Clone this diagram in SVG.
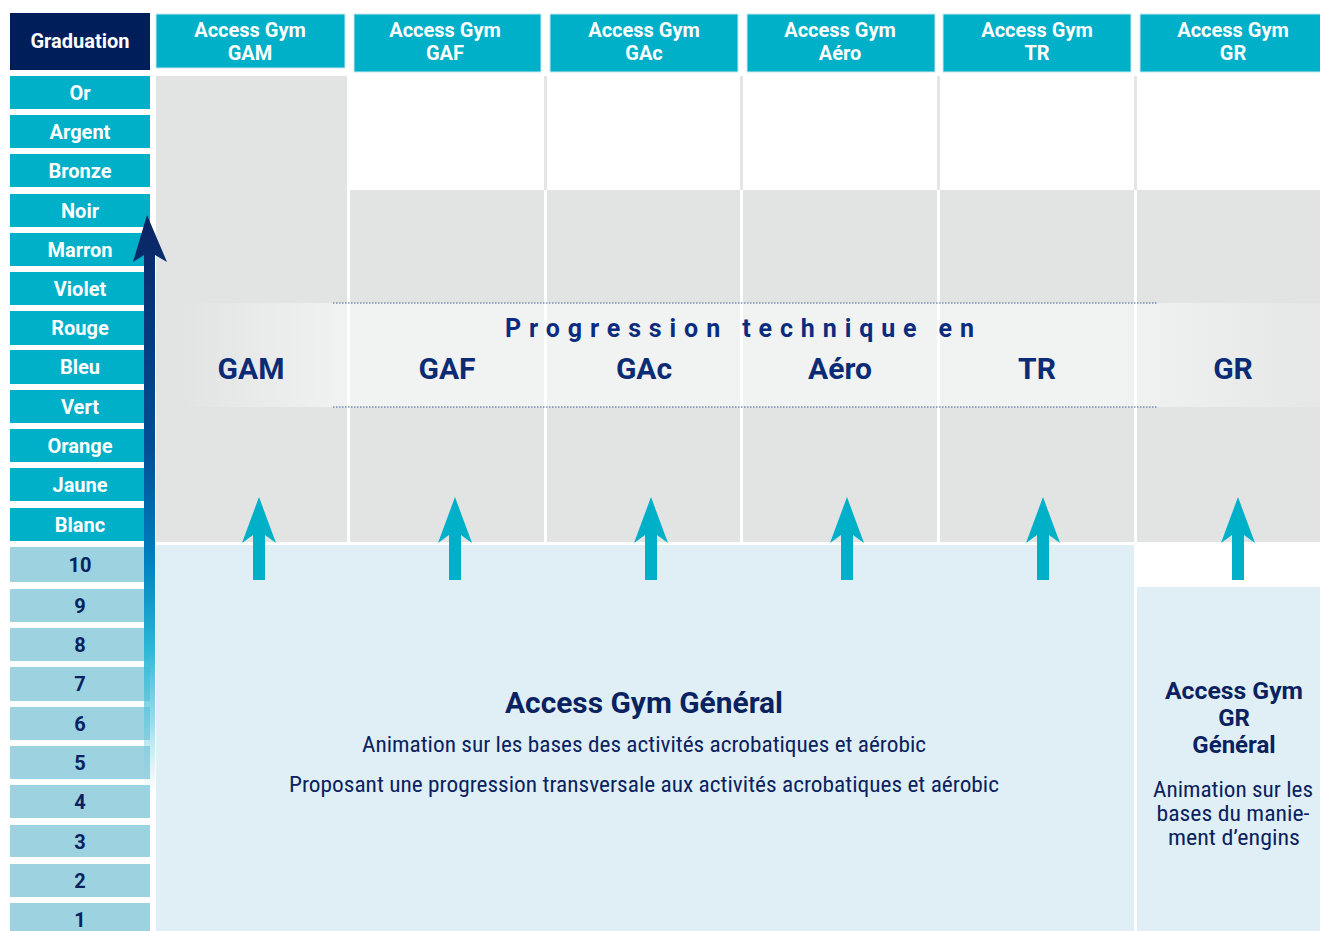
<svg xmlns="http://www.w3.org/2000/svg" width="1320" height="931" viewBox="0 0 1320 931">
<defs>
<style>
.hd{fill:#00AFC8;stroke:#C8E9F0;stroke-width:1}
.hdt{font-family:Roboto,"Liberation Sans",sans-serif;font-weight:700;font-size:20px;fill:#FFFFFF;text-anchor:middle}
.row{fill:#00AFC8}
.num{fill:#9DD2E1}
.rt{font-family:Roboto,"Liberation Sans",sans-serif;font-weight:700;font-size:20px;fill:#FFFFFF;text-anchor:middle;dominant-baseline:central}
.nt{font-family:Roboto,"Liberation Sans",sans-serif;font-weight:700;font-size:20px;fill:#0A2260;text-anchor:middle;dominant-baseline:central}
.gray{fill:#E2E4E4}
.sep{fill:#E4E5E5}
.big{font-family:Roboto,"Liberation Sans",sans-serif;font-weight:700;font-size:30px;fill:#0B2C74;text-anchor:middle}
.bt{font-family:Roboto,"Liberation Sans",sans-serif;font-weight:700;fill:#0A2260;text-anchor:middle}
.body{font-family:"Liberation Sans Narrow","Roboto Condensed",Roboto,"Liberation Sans",sans-serif;font-size:22px;fill:#0A2260;text-anchor:middle}
.up{fill:#00AFC8}
.dot{stroke:#3D5C9C;stroke-width:1;stroke-dasharray:1.5 1.5;fill:none}
</style>
<linearGradient id="gArrow" x1="0" y1="215" x2="0" y2="795" gradientUnits="userSpaceOnUse">
<stop offset="0" stop-color="#0A2463"/>
<stop offset="0.4" stop-color="#004E96"/>
<stop offset="0.6" stop-color="#0082C0"/>
<stop offset="0.75" stop-color="#2CB8D6"/>
<stop offset="0.88" stop-color="#60C8DE" stop-opacity="0.6"/>
<stop offset="1" stop-color="#9DD2E1" stop-opacity="0"/>
</linearGradient>
<linearGradient id="gBand" x1="180" y1="0" x2="1320" y2="0" gradientUnits="userSpaceOnUse">
<stop offset="0" stop-color="#F1F2F2" stop-opacity="0"/>
<stop offset="0.15" stop-color="#F1F2F2" stop-opacity="1"/>
<stop offset="0.82" stop-color="#F1F2F2" stop-opacity="1"/>
<stop offset="1" stop-color="#F1F2F2" stop-opacity="0.2"/>
</linearGradient>
</defs>
<rect x="0" y="0" width="1320" height="931" fill="#FFFFFF"/>

<g id="columns">
<rect class="gray" x="156" y="76" width="191" height="466"/>
<rect class="sep" x="544" y="76" width="3" height="114"/>
<rect class="sep" x="740" y="76" width="3" height="114"/>
<rect class="sep" x="937" y="76" width="3" height="114"/>
<rect class="sep" x="1134" y="76" width="3" height="114"/>
<rect class="gray" x="350" y="190" width="194" height="352"/>
<rect class="gray" x="547" y="190" width="193" height="352"/>
<rect class="gray" x="743" y="190" width="194" height="352"/>
<rect class="gray" x="940" y="190" width="194" height="352"/>
<rect class="gray" x="1137" y="190" width="183" height="352"/>
</g>

<g id="band">
<rect x="180" y="303" width="1140" height="104" fill="url(#gBand)"/>
<rect x="347" y="303" width="3" height="104" fill="#FFFFFF"/>
<rect x="544" y="303" width="3" height="104" fill="#FFFFFF"/>
<rect x="740" y="303" width="3" height="104" fill="#FFFFFF"/>
<rect x="937" y="303" width="3" height="104" fill="#FFFFFF"/>
<rect x="1134" y="303" width="3" height="104" fill="#FFFFFF"/>
<line class="dot" x1="333" y1="303" x2="1157" y2="303"/>
<line class="dot" x1="333" y1="407" x2="1157" y2="407"/>
<text x="505" y="337" font-family="Roboto,'Liberation Sans',sans-serif" font-weight="700" font-size="25" fill="#0B2C7E" letter-spacing="9" textLength="478" lengthAdjust="spacing">Progression technique en</text>
<text class="big" x="251" y="379">GAM</text>
<text class="big" x="447" y="379">GAF</text>
<text class="big" x="644" y="379">GAc</text>
<text class="big" x="840" y="379">Aéro</text>
<text class="big" x="1037" y="379">TR</text>
<text class="big" x="1233" y="379">GR</text>
</g>

<g id="headers">
<rect x="10" y="13" width="140" height="57" fill="#001E5A"/>
<text class="hdt" x="80" y="48" font-size="21">Graduation</text>
<rect class="hd" x="156" y="14" width="189" height="54"/>
<text class="hdt" x="250" y="37">Access Gym</text><text class="hdt" x="250" y="60">GAM</text>
<rect class="hd" x="354" y="14" width="187" height="58"/>
<text class="hdt" x="445" y="37">Access Gym</text><text class="hdt" x="445" y="60">GAF</text>
<rect class="hd" x="550" y="14" width="188" height="58"/>
<text class="hdt" x="644" y="37">Access Gym</text><text class="hdt" x="644" y="60">GAc</text>
<rect class="hd" x="747" y="14" width="188" height="58"/>
<text class="hdt" x="840" y="37">Access Gym</text><text class="hdt" x="840" y="60">Aéro</text>
<rect class="hd" x="943" y="14" width="188" height="58"/>
<text class="hdt" x="1037" y="37">Access Gym</text><text class="hdt" x="1037" y="60">TR</text>
<rect class="hd" x="1140" y="14" width="181" height="58"/>
<text class="hdt" x="1233" y="37">Access Gym</text><text class="hdt" x="1233" y="60">GR</text>
</g>

<g id="graduations">
<rect class="row" x="10" y="76" width="140" height="33"/><text class="rt" x="80" y="93">Or</text>
<rect class="row" x="10" y="115" width="140" height="33"/><text class="rt" x="80" y="132">Argent</text>
<rect class="row" x="10" y="154" width="140" height="33"/><text class="rt" x="80" y="171">Bronze</text>
<rect class="row" x="10" y="194" width="140" height="33"/><text class="rt" x="80" y="211">Noir</text>
<rect class="row" x="10" y="233" width="140" height="33"/><text class="rt" x="80" y="250">Marron</text>
<rect class="row" x="10" y="272" width="140" height="33"/><text class="rt" x="80" y="289">Violet</text>
<rect class="row" x="10" y="311" width="140" height="34"/><text class="rt" x="80" y="328">Rouge</text>
<rect class="row" x="10" y="350" width="140" height="34"/><text class="rt" x="80" y="367">Bleu</text>
<rect class="row" x="10" y="390" width="140" height="33"/><text class="rt" x="80" y="407">Vert</text>
<rect class="row" x="10" y="429" width="140" height="33"/><text class="rt" x="80" y="446">Orange</text>
<rect class="row" x="10" y="468" width="140" height="33"/><text class="rt" x="80" y="485">Jaune</text>
<rect class="row" x="10" y="508" width="140" height="33"/><text class="rt" x="80" y="525">Blanc</text>
<rect class="num" x="10" y="547" width="140" height="35"/><text class="nt" x="80" y="565">10</text>
<rect class="num" x="10" y="589" width="140" height="33"/><text class="nt" x="80" y="606">9</text>
<rect class="num" x="10" y="628" width="140" height="33"/><text class="nt" x="80" y="645">8</text>
<rect class="num" x="10" y="667" width="140" height="34"/><text class="nt" x="80" y="684">7</text>
<rect class="num" x="10" y="707" width="140" height="33"/><text class="nt" x="80" y="724">6</text>
<rect class="num" x="10" y="746" width="140" height="33"/><text class="nt" x="80" y="763">5</text>
<rect class="num" x="10" y="785" width="140" height="33"/><text class="nt" x="80" y="802">4</text>
<rect class="num" x="10" y="825" width="140" height="32"/><text class="nt" x="80" y="842">3</text>
<rect class="num" x="10" y="864" width="140" height="33"/><text class="nt" x="80" y="881">2</text>
<rect class="num" x="10" y="903" width="140" height="28"/><text class="nt" x="80" y="920">1</text>
</g>

<g id="general">
<rect x="156" y="545" width="978" height="386" fill="#E0EFF5"/>
<text class="bt" x="644" y="713" font-size="29" textLength="278" lengthAdjust="spacingAndGlyphs">Access Gym Général</text>
<text class="body" x="644" y="752" textLength="564" lengthAdjust="spacingAndGlyphs">Animation sur les bases des activités acrobatiques et aérobic</text>
<text class="body" x="644" y="792" textLength="710" lengthAdjust="spacingAndGlyphs">Proposant une progression transversale aux activités acrobatiques et aérobic</text>
</g>

<g id="gr-general">
<rect x="1137" y="587" width="183" height="344" fill="#E0EFF5"/>
<text class="bt" x="1234" y="699" font-size="24" textLength="138" lengthAdjust="spacingAndGlyphs">Access Gym</text>
<text class="bt" x="1234" y="726" font-size="24">GR</text>
<text class="bt" x="1234" y="753" font-size="24">Général</text>
<text class="body" x="1233" y="797" textLength="160" lengthAdjust="spacingAndGlyphs">Animation sur les</text>
<text class="body" x="1233" y="821" textLength="153" lengthAdjust="spacingAndGlyphs">bases du manie-</text>
<text class="body" x="1234" y="845" textLength="132" lengthAdjust="spacingAndGlyphs">ment d’engins</text>
</g>

<g id="connectors">
<path d="M147,215 L167,262 L155,255 L155,795 L144,795 L144,255 L133,262 Z" fill="url(#gArrow)"/>
<path class="up" d="M259,497 L276,543 L265,535 L265,580 L253,580 L253,535 L242,543 Z"/>
<path class="up" d="M455,497 L472,543 L461,535 L461,580 L449,580 L449,535 L438,543 Z"/>
<path class="up" d="M651,497 L668,543 L657,535 L657,580 L645,580 L645,535 L634,543 Z"/>
<path class="up" d="M847,497 L864,543 L853,535 L853,580 L841,580 L841,535 L830,543 Z"/>
<path class="up" d="M1043,497 L1060,543 L1049,535 L1049,580 L1037,580 L1037,535 L1026,543 Z"/>
<path class="up" d="M1238,497 L1255,543 L1244,535 L1244,580 L1232,580 L1232,535 L1221,543 Z"/>
</g>
</svg>
